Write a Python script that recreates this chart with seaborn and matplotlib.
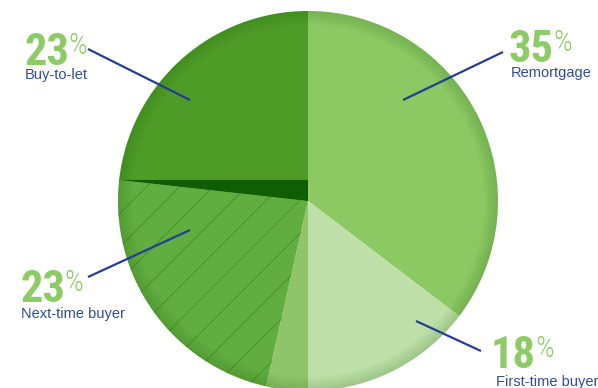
import numpy as np
import matplotlib
matplotlib.use("Agg")
import matplotlib.pyplot as plt
from matplotlib.patches import Wedge, Polygon
from matplotlib import font_manager as fm
import seaborn as sns

# ---- data ----
categories = ["Remortgage", "First-time buyer", "Next-time buyer", "Buy-to-let"]
values = [35, 18, 23, 23]
pct_labels = ["35", "18", "23", "23"]

slice_colors = ["#8CC963", "#BEE0A8", "#62AD40", "#4E9B27"]

sns.set_theme(style="white")
plt.rcParams["font.family"] = ["Liberation Sans", "DejaVu Sans"]
plt.rcParams["hatch.linewidth"] = 1.1


def find_font(prefs, bold):
    files = [f.fname for f in fm.fontManager.ttflist]
    for p in prefs:
        for f in files:
            base = f.lower().replace(" ", "").rsplit("/", 1)[-1]
            if base.startswith(p.lower()):
                return f
    for f in files:
        lf = f.lower()
        if ("condensed" in lf or "narrow" in lf) and (("bold" in lf) == bold):
            return f
    return None


bold_file = find_font(["RobotoCondensed-Bold", "LiberationSansNarrow-Bold",
                       "OpenSans_Condensed-Bold", "DejaVuSansCondensed-Bold"], True)
light_file = find_font(["RobotoCondensed-Light", "RobotoCondensed-Regular",
                        "LiberationSansNarrow-Regular", "DejaVuSansCondensed.ttf"], False)


def props(fname, size, weight):
    if fname:
        return fm.FontProperties(fname=fname, size=size)
    return fm.FontProperties(family="DejaVu Sans", weight=weight, size=size)


W, H = 598, 388
fig = plt.figure(figsize=(W / 100, H / 100), dpi=100)
ax = fig.add_axes([0, 0, 1, 1])

CX, CY, R = 308, 201, 190  # pie centre / radius in pixels


def px(x, y):
    return (x - CX) / R, (CY - y) / R


wedges, _ = ax.pie(values, colors=slice_colors, startangle=90, counterclock=False,
                   radius=1, center=(0, 0), wedgeprops=dict(linewidth=0))
ax.set_xlim(px(0, 0)[0], px(W, 0)[0])
ax.set_ylim(px(0, H)[1], px(0, 0)[1])
ax.set_aspect("equal")
ax.axis("off")

w_ft = wedges[1]
w_nt = wedges[2]

# First-time buyer: darker part beyond straight-down
ax.add_patch(Wedge((0, 0), 1, w_ft.theta1, -90, facecolor="#8FC46B", lw=0))

# Next-time buyer: diagonal hatch
ax.add_patch(Wedge((0, 0), 1, w_nt.theta1, w_nt.theta2, facecolor="none",
                   edgecolor="#4F9C30", hatch="/", lw=0))

# Dark band above Next-time buyer (boundary with Buy-to-let)
a = np.deg2rad(w_nt.theta1)
rim = (np.cos(a), np.sin(a))
ax.add_patch(Polygon([(0, 0), rim, (0, rim[1])], closed=True,
                     facecolor="#0F5E04", lw=0))

# subtle rim shading
for k in range(6):
    ax.add_patch(Wedge((0, 0), 1, 0, 360, width=0.012 * (k + 1),
                       facecolor="#1E5E0A", alpha=0.03, lw=0))

# ---- labels ----
num_color = "#8DCB67"
txt_color = "#2E4C9C"
line_color = "#233E94"

NUM_SIZE, PCT_SIZE = 32, 21
# layout: (number x, number baseline y, label x, label top y, line start, line end) in px
layout = {
    "Buy-to-let": (25, 65, 25, 68, (88, 49), (190, 100)),
    "Remortgage": (509, 62, 511, 66, (503, 52), (403, 100)),
    "Next-time buyer": (21, 302, 21, 307, (88, 277), (190, 230)),
    "First-time buyer": (491, 368, 496, 375, (481, 351), (416, 321)),
}
cap_shift = 0.73 * (NUM_SIZE - PCT_SIZE) * 100 / 72

fig.canvas.draw()
renderer = fig.canvas.get_renderer()
for cat, pct in zip(categories, pct_labels):
    nx, ny, lx, ly, p0, p1 = layout[cat]
    t = ax.text(*px(nx, ny), pct, color=num_color,
                fontproperties=props(bold_file, NUM_SIZE, "bold"),
                ha="left", va="baseline")
    bb = t.get_window_extent(renderer=renderer)
    ax.text(*px(bb.x1 - 1, ny - cap_shift), "%", color=num_color,
            fontproperties=props(light_file, PCT_SIZE, "normal"),
            ha="left", va="baseline")
    ax.text(*px(lx, ly), cat, color=txt_color, fontsize=10.5, ha="left", va="top")
    ax.plot([px(*p0)[0], px(*p1)[0]], [px(*p0)[1], px(*p1)[1]],
            color=line_color, lw=1.6, solid_capstyle="butt")

fig.savefig("out.png", dpi=100)
